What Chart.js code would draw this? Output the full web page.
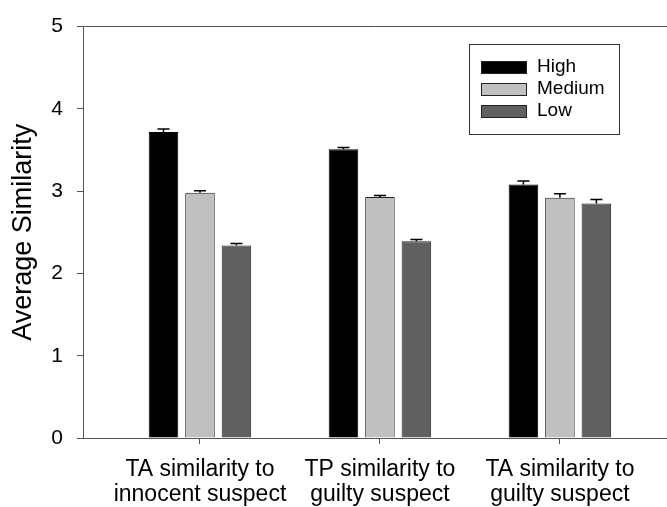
<!DOCTYPE html>
<html>
<head>
<meta charset="utf-8">
<script src="https://cdn.jsdelivr.net/npm/chart.js@4"></script>
<style>
  body { margin: 0; background: #fff; }
  #wrap { width: 667px; height: 507px; position: relative; }
</style>
</head>
<body>
<div id="wrap"><canvas id="chart"></canvas></div>
<script>
// data
const categories = [
  ['TA similarity to', 'innocent suspect'],
  ['TP similarity to', 'guilty suspect'],
  ['TA similarity to', 'guilty suspect']
];
const seriesNames = ['High', 'Medium', 'Low'];
const highValues = [3.72, 3.51, 3.08];
const mediumValues = [2.98, 2.93, 2.92];
const lowValues = [2.34, 2.39, 2.85];
const highErrors = [0.036, 0.02, 0.045];
const mediumErrors = [0.024, 0.016, 0.048];
const lowErrors = [0.024, 0.024, 0.048];
const yTicks = [0, 1, 2, 3, 4, 5];

const font = "'Liberation Sans', Arial, sans-serif";
const axisColor = '#555';

const toPoints = vals => vals.map((v, i) => ({ x: i + 1, y: v }));

// error bars (upper half only, like the original)
const errorBars = {
  id: 'errorBars',
  afterDatasetsDraw(chart) {
    const ctx = chart.ctx;
    const y = chart.scales.y;
    ctx.save();
    ctx.strokeStyle = '#000';
    ctx.lineWidth = 1.5;
    chart.data.datasets.forEach((ds, di) => {
      const meta = chart.getDatasetMeta(di);
      meta.data.forEach((bar, i) => {
        const top = y.getPixelForValue(ds.data[i].y);
        const end = y.getPixelForValue(ds.data[i].y + ds.errors[i]);
        ctx.beginPath();
        ctx.moveTo(bar.x, top);
        ctx.lineTo(bar.x, end);
        ctx.moveTo(bar.x - 6, end);
        ctx.lineTo(bar.x + 6, end);
        ctx.stroke();
      });
    });
    ctx.restore();
  }
};

// boxed legend inside the plot
const boxLegend = {
  id: 'boxLegend',
  afterDraw(chart, args, opts) {
    const ctx = chart.ctx;
    ctx.save();
    ctx.strokeStyle = '#333';
    ctx.lineWidth = 1;
    ctx.strokeRect(opts.left + 0.5, opts.top + 0.5, opts.width, opts.height);
    ctx.font = '19px ' + font;
    ctx.textBaseline = 'middle';
    chart.data.datasets.forEach((ds, i) => {
      const sy = opts.top + opts.firstRow + i * opts.rowGap;
      ctx.fillStyle = ds.backgroundColor;
      ctx.fillRect(opts.left + 12, sy, 45, 12);
      ctx.strokeStyle = '#222';
      ctx.strokeRect(opts.left + 12.5, sy + 0.5, 45, 12);
      ctx.fillStyle = '#000';
      ctx.fillText(ds.label, opts.left + 68, sy + 6);
    });
    ctx.restore();
  }
};

new Chart(document.getElementById('chart'), {
  type: 'bar',
  data: {
    datasets: [
      { label: seriesNames[0], data: toPoints(highValues), errors: highErrors,
        backgroundColor: '#000000', borderColor: '#000000' },
      { label: seriesNames[1], data: toPoints(mediumValues), errors: mediumErrors,
        backgroundColor: '#c0c0c0', borderColor: '#222' },
      { label: seriesNames[2], data: toPoints(lowValues), errors: lowErrors,
        backgroundColor: '#606060', borderColor: '#222' }
    ]
  },
  plugins: [errorBars, boxLegend],
  options: {
    responsive: true,
    maintainAspectRatio: false,
    animation: false,
    layout: { padding: 0 },
    datasets: {
      bar: { borderWidth: 1, categoryPercentage: 0.608, barPercentage: 0.81 }
    },
    scales: {
      x: {
        type: 'linear',
        position: 'bottom',
        offset: false,
        min: 0.35,
        max: 3.595,
        afterBuildTicks: s => { s.ticks = categories.map((c, i) => ({ value: i + 1 })); },
        afterFit: s => { s.height = 69; },
        ticks: {
          callback: v => categories[v - 1],
          font: { family: font, size: 23, lineHeight: 1.1 },
          color: '#000',
          padding: 13,
          maxRotation: 0,
          autoSkip: false
        },
        grid: { display: true, drawOnChartArea: false, offset: false, tickLength: 6, color: axisColor },
        border: { display: true, color: axisColor, width: 1 }
      },
      x2: {
        type: 'linear',
        position: 'top',
        offset: false,
        afterFit: s => { s.height = 22; },
        ticks: { display: false },
        grid: { display: false, offset: false },
        border: { display: true, color: axisColor, width: 1 }
      },
      y: {
        min: 0,
        max: 5,
        afterBuildTicks: s => { s.ticks = yTicks.map(v => ({ value: v })); },
        afterFit: s => { s.width = 83; },
        ticks: {
          font: { family: font, size: 21 },
          color: '#000',
          padding: 14
        },
        grid: { display: true, drawOnChartArea: false, tickLength: 6, color: axisColor },
        border: { display: true, color: axisColor, width: 1 },
        title: {
          display: true,
          text: 'Average Similarity',
          font: { family: font, size: 27 },
          color: '#000',
          padding: { top: 7, bottom: 0 }
        }
      }
    },
    plugins: {
      legend: { display: false },
      tooltip: { enabled: false },
      boxLegend: { left: 469, top: 44, width: 150, height: 90, firstRow: 17, rowGap: 22 }
    }
  }
});
</script>
</body>
</html>
